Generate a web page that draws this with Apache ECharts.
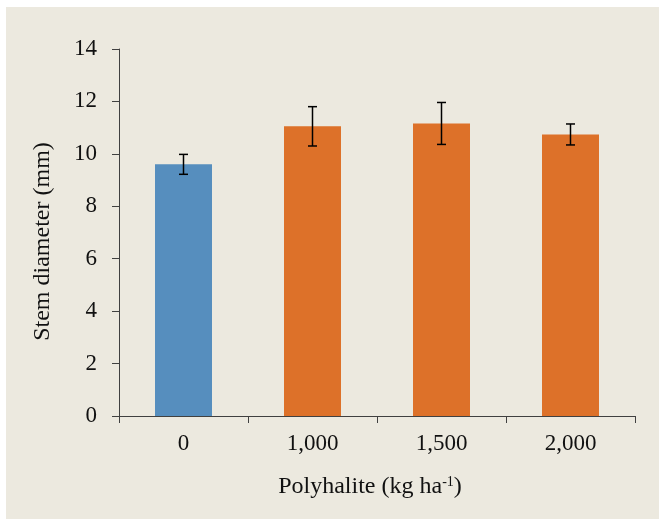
<!DOCTYPE html>
<html>
<head>
<meta charset="utf-8">
<script src="https://cdn.jsdelivr.net/npm/echarts@6/dist/echarts.min.js"></script>
<style>
html,body{margin:0;padding:0;background:#ffffff;width:659px;height:519px;overflow:hidden;}
#wrap{position:absolute;left:6px;top:7px;width:653px;height:512px;background:#ECE9DF;}
#chart{width:653px;height:512px;}
</style>
</head>
<body>
<div id="wrap"><div id="chart"></div></div>
<script>
const categories = ['0', '1,000', '1,500', '2,000'];
const means = [9.6, 11.05, 11.16, 10.74];
const errors = [0.38, 0.75, 0.8, 0.4];
const yTicks = [0, 2, 4, 6, 8, 10, 12, 14];

const FONT = 'Liberation Serif';
const chart = echarts.init(document.getElementById('chart'), null, {renderer: 'canvas'});
const barColors = i => (i === 0 ? '#568EBE' : '#DD7129');

const option = {
  backgroundColor: '#ECE9DF',
  animation: false,
  grid: {left: 113, top: 42, right: 24, bottom: 103, containLabel: false},
  xAxis: {
    type: 'category',
    data: categories,
    name: '{n|Polyhalite (kg ha}{s|-1}{n|)}',
    nameLocation: 'middle',
    nameGap: 59,
    nameTextStyle: {
      padding: [0, 14, 0, 0],
      rich: {
        n: {fontFamily: FONT, fontSize: 24, color: '#111'},
        s: {fontFamily: FONT, fontSize: 14, color: '#111', padding: [0, 0, 10, 0]}
      }
    },
    axisLine: {lineStyle: {color: '#404040', width: 1}},
    axisTick: {show: true, length: 7, lineStyle: {color: '#404040'}},
    axisLabel: {fontFamily: FONT, fontSize: 23, color: '#111', margin: 16}
  },
  yAxis: {
    type: 'value',
    min: 0, max: 14, interval: 2,
    name: 'Stem diameter (mm)',
    nameLocation: 'middle',
    nameGap: 64,
    nameTextStyle: {fontFamily: FONT, fontSize: 24, color: '#111', padding: [0, 18, 0, 0]},
    axisLine: {show: true, lineStyle: {color: '#404040', width: 1}},
    axisTick: {show: true, length: 7, lineStyle: {color: '#404040'}},
    splitLine: {show: false},
    axisLabel: {fontFamily: FONT, fontSize: 23, color: '#111', margin: 22,
      formatter: v => (yTicks.indexOf(v) >= 0 ? String(v) : '')}
  },
  series: [
    {
      type: 'bar',
      data: means.map((v, i) => ({value: v, itemStyle: {color: barColors(i)}})),
      barWidth: 57
    },
    {
      type: 'custom',
      data: means.map((v, i) => [i, v - errors[i], v + errors[i]]),
      z: 10,
      renderItem: function (params, api) {
        const x = api.value(0);
        const lo = api.coord([x, api.value(1)]);
        const hi = api.coord([x, api.value(2)]);
        const hw = 4.5;
        const style = {stroke: '#000', lineWidth: 1.5};
        return {
          type: 'group',
          children: [
            {type: 'line', shape: {x1: lo[0], y1: lo[1], x2: hi[0], y2: hi[1]}, style},
            {type: 'line', shape: {x1: lo[0] - hw, y1: lo[1], x2: lo[0] + hw, y2: lo[1]}, style},
            {type: 'line', shape: {x1: hi[0] - hw, y1: hi[1], x2: hi[0] + hw, y2: hi[1]}, style}
          ]
        };
      }
    }
  ]
};
chart.setOption(option);
</script>
</body>
</html>
